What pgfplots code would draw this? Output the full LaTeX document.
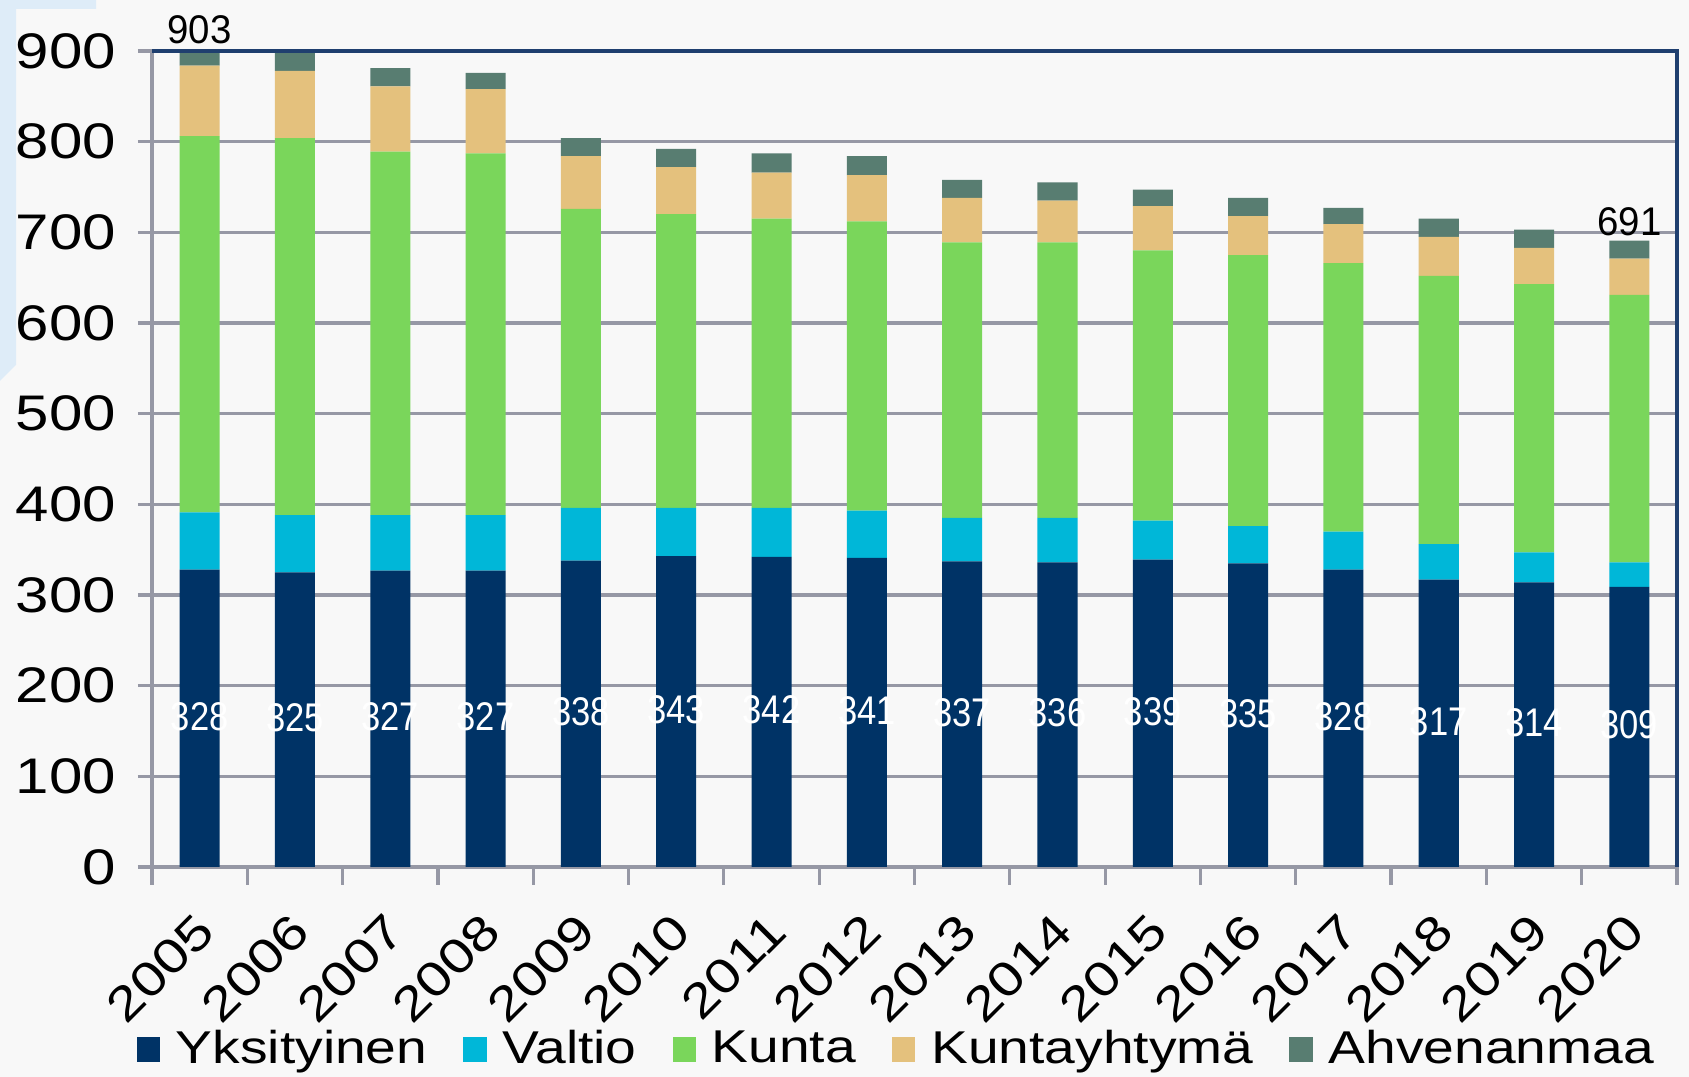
\documentclass[border=0pt]{standalone}
\usepackage{pgfplots}
\pgfplotsset{compat=1.18}
\usepackage{pgfplotstable}
\usepackage{fontspec}
\setmainfont{Liberation Sans}[FakeStretch=1.2]

\definecolor{cY}{RGB}{0,51,102}
\definecolor{cV}{RGB}{0,183,216}
\definecolor{cK}{RGB}{122,214,91}
\definecolor{cKY}{RGB}{228,193,125}
\definecolor{cA}{RGB}{88,125,113}
\definecolor{bgc}{RGB}{248,248,248}
\definecolor{gridc}{RGB}{150,152,165}
\definecolor{framec}{RGB}{31,63,111}
\definecolor{deco}{RGB}{222,236,248}

\pgfplotstableread{
x Y V K KY A
0 328 63 415 78 19
1 325 63 416 74 23
2 327 61 401 72 20
3 327 61 399 71 18
4 338 58 330 58 20
5 343 53 324 52 20
6 342 54 319 51 21
7 341 52 319 51 21
8 337 48 304 49 20
9 336 49 304 46 20
10 339 43 298 49 18
11 335 41 299 43 20
12 328 42 296 43 18
13 317 39 296 43 20
14 314 33 296 40 20
15 309 27 295 40 20
}\data

\pgfplotsset{
  commonaxis/.style={
    at={(38pt,52.5pt)}, anchor=south west,
    scale only axis, width=381.25pt, height=204pt,
    xmin=-0.5, xmax=15.5, ymin=0, ymax=900,
    /pgf/number format/assume math mode=true,
  }
}

\begin{document}
\begin{tikzpicture}
\fill[bgc] (0,0) rectangle (422.25pt,269.25pt);
\fill[deco] (0,269.25pt) -- (24pt,269.25pt) -- (24pt,267pt) -- (4pt,267pt) -- (4pt,178pt) -- (0,174pt) -- cycle;
\path[use as bounding box] (0,0) rectangle (422.25pt,269.25pt);
\begin{axis}[commonaxis,
  ybar stacked, bar width=0.42,
  xtick={0,...,15},
  xticklabels={2005,2006,2007,2008,2009,2010,2011,2012,2013,2014,2015,2016,2017,2018,2019,2020},
  minor xtick={-0.5,0.5,...,15.5},
  ytick={0,100,...,900},
  xtick pos=bottom, ytick pos=left,
  tick align=outside,
  major x tick style={draw=none},
  minor x tick style={gridc, line width=0.8pt},
  major y tick style={gridc, line width=0.8pt},
  major tick length=3.5pt, minor tick length=4.5pt,
  ymajorgrids, grid style={gridc, line width=0.8pt},
  axis line style={gridc, line width=0.8pt},
  yticklabel style={font=\fontsize{12.5}{15}\selectfont, xshift=-2pt},
  xticklabel style={font=\fontsize{12}{14}\selectfont, rotate=45, anchor=east, xshift=-5.2pt, yshift=-8.4pt, inner sep=1pt},
  legend columns=5,
  legend style={at={(0.49,-0.224)}, anchor=center, draw=none, fill=none,
    font=\fontsize{11.5}{14}\selectfont,
    /tikz/every even column/.append style={column sep=7pt},
    /tikz/every odd column/.append style={column sep=0pt}},
  legend image code/.code={\fill[#1] (0pt,-3pt) rectangle (5.8pt,3.2pt);},
  every axis plot/.append style={draw=none},
  after end axis/.code={
    \draw[framec, line width=0.9pt] (rel axis cs:0,1) -- (rel axis cs:1,1) -- (rel axis cs:1,0);
  },
]
\addplot[fill=cY] table[x=x,y=Y] {\data};
\addplot[fill=cV] table[x=x,y=V] {\data};
\addplot[fill=cK] table[x=x,y=K] {\data};
\addplot[fill=cKY] table[x=x,y=KY] {\data};
\addplot[fill=cA] table[x=x,y=A] {\data};
\legend{\hspace{2pt}Yksityinen,\hspace{2pt}Valtio,\hspace{2pt}Kunta,\hspace{2pt}Kuntayhtymä,\hspace{2pt}Ahvenanmaa}
\end{axis}
\begin{axis}[commonaxis, hide axis, clip=false]
\addplot[draw=none, mark=none, nodes near coords={\scalebox{0.72}[1]{\pgfmathprintnumber{\pgfplotspointmeta}}},
  point meta=explicit,
  nodes near coords style={anchor=center, white, font=\fontsize{10}{12}\selectfont, inner sep=0pt}]
  table[x=x, y expr=\thisrow{Y}/2+2, meta=Y] {\data};
\addplot[draw=none, mark=none, nodes near coords={\scalebox{0.8}[1]{\pgfmathprintnumber{\pgfplotspointmeta}}}, point meta=y,
  nodes near coords style={anchor=south, black, font=\fontsize{10}{12}\selectfont, inner sep=1pt}]
  coordinates {(0,903) (15,691)};
\end{axis}
\end{tikzpicture}
\end{document}
